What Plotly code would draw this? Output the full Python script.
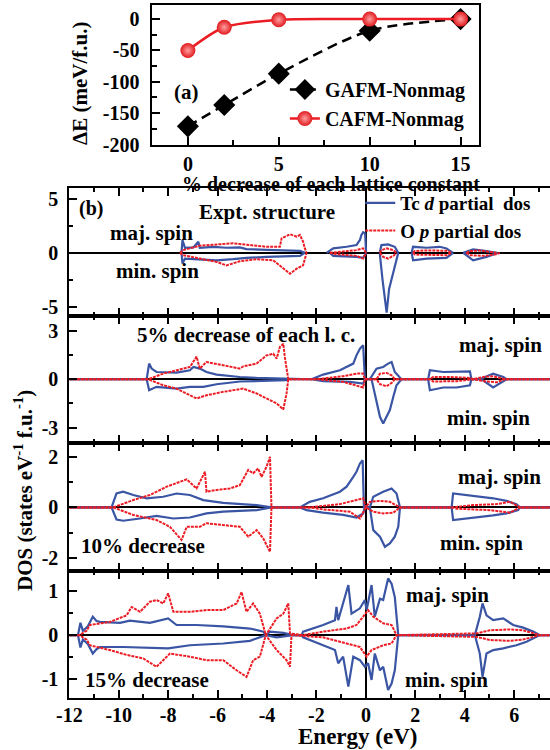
import plotly.graph_objects as go

FONT = "Liberation Serif"
BLUE = "#3A55A4"
RED = "#EC1C24"
GAP = (None, None)

# ---------------- panel (a) data ----------------
LATTICE_DECREASE = [0, 2, 5, 10, 15]
GAFM_NONMAG = [-171, -137, -87, -18.5, 0]
CAFM_NONMAG = [-50, -13, -1, 0, 0]
A_YTICKS = [0, -50, -100, -150, -200]
A_XTICKS = [0, 5, 10, 15]

# ---------------- panel (b) data: (energy eV, DOS) ----------------
# Expt. structure
P1_D_UP = [(-7.46, 0), (-7.42, 1.19), (-7.32, 0.47), (-6.98, 0.5), (-6.78, 1.03), (-6.72, 0.47), (-6.18, 0.56),
           (-5.64, 0.47), (-5.10, 0.5), (-4.83, 0.34), (-4.02, 0.28), (-3.21, 0.25), (-2.67, 0.19), (-2.47, 0), GAP,
           (-1.59, 0), (-1.32, 0.41), (-0.78, 0.56), (-0.38, 0.72), (-0.24, 1.19), (-0.18, 1.66), (-0.11, 1.9),
           (-0.03, 1.8), (0.01, 0), GAP,
           (0.57, 0.09), (0.63, 0.72), (0.90, 0.78), (1.17, 0.56), (1.31, 0), GAP,
           (1.85, 0), (1.91, 0.56), (2.45, 0.47), (2.99, 0.56), (3.26, 0.41), (3.53, 0), GAP,
           (3.94, 0), (4.34, 0.31), (4.88, 0.16), (5.29, 0)]
P1_D_DN = [(-7.46, 0), (-7.42, -1.0), (-7.32, -0.53), (-6.72, -0.59), (-6.04, -0.69), (-5.37, -0.59), (-4.83, -0.47),
           (-4.02, -0.38), (-3.21, -0.34), (-2.67, -0.28), (-2.47, 0), GAP,
           (-1.46, 0), (-1.32, -0.28), (-0.38, -0.38), (-0.11, -0.47), (0.01, 0), GAP,
           (0.57, 0), (0.57, -0.22), (0.67, -2.41), (0.77, -4.59), (0.84, -5.53), (0.94, -3.34), (1.04, -2.41),
           (1.17, -1.47), (1.31, 0), GAP,
           (1.85, 0), (1.91, -0.69), (2.45, -0.53), (3.26, -0.47), (3.53, 0), GAP,
           (3.94, 0), (4.34, -0.69), (4.88, -0.38), (5.35, 0)]
P1_P_UP = [(-7.52, 0), (-7.39, 0.25), (-6.72, 0.66), (-6.04, 0.78), (-5.37, 0.88), (-4.69, 0.72), (-4.02, 0.56),
           (-3.48, 0.56), (-3.41, 1.34), (-3.07, 1.72), (-2.80, 1.5), (-2.67, 1.66), (-2.54, 1.03), (-2.47, 0.41),
           (-2.40, 0), GAP,
           (-1.46, 0), (-0.38, 0.25), (-0.11, 0.41), (0.01, 0), GAP,
           (0.57, 0), (0.63, 0.25), (0.84, 0.41), (1.11, 0.25), (1.24, 0), GAP,
           (1.91, 0), (1.98, 0.16), (2.45, 0.22), (3.26, 0.19), (3.47, 0), GAP,
           (4.07, 0), (4.21, 0.16), (4.61, 0.22), (5.15, 0.09), (5.29, 0)]
P1_P_DN = [(-7.52, 0), (-7.39, -0.22), (-6.72, -0.53), (-6.04, -0.84), (-5.64, -1.16), (-5.10, -0.78), (-4.42, -0.59),
           (-3.75, -0.69), (-3.41, -1.31), (-3.07, -1.94), (-2.80, -1.47), (-2.54, -1.16), (-2.40, 0), GAP,
           (-1.46, 0), (-1.32, -0.09), (-0.38, -0.28), (-0.11, -0.53), (0.01, 0), GAP,
           (0.57, 0), (0.70, -0.38), (0.90, -0.53), (1.11, -0.28), (1.24, 0), GAP,
           (1.91, 0), (1.98, -0.16), (3.26, -0.22), (3.47, 0), GAP,
           (4.07, 0), (4.21, -0.22), (4.75, -0.28), (5.29, -0.13), (5.42, 0)]

# 5% decrease
P2_D_UP = [(-12, 0), (-8.87, 0), (-8.77, 0.97), (-8.67, 0.66), (-8.47, 0.45), (-7.66, 0.41), (-7.12, 0.56),
           (-6.98, 0.76), (-6.72, 0.66), (-6.45, 0.45), (-6.04, 0.29), (-5.10, 0.14), (-4.42, 0.08), (-3.21, 0.04),
           (-3.14, 0), (-2.20, 0), (-1.73, 0.29), (-1.05, 0.56), (-0.51, 0.97), (-0.38, 1.48), (-0.24, 1.89),
           (-0.11, 2.1), (-0.04, 0), (0.16, 0), (0.43, 0.66), (0.70, 0.76), (0.90, 0.97), (1.04, 1.07), (1.17, 0.45),
           (1.44, 0), (2.52, 0), (2.59, 0.56), (3.13, 0.45), (3.67, 0.45), (4.21, 0.49), (4.27, 0), (4.61, 0),
           (5.15, 0.35), (5.56, 0.14), (5.69, 0), (7.45, 0)]
P2_D_DN = [(-12, 0), (-8.87, 0), (-8.77, -0.68), (-8.47, -0.47), (-7.66, -0.58), (-7.12, -0.47), (-6.58, -0.47),
           (-6.04, -0.31), (-5.10, -0.14), (-3.21, -0.06), (-3.14, 0), (-2.20, 0), (-1.73, -0.12), (-0.65, -0.16),
           (-0.11, -0.27), (-0.04, 0), (0.23, 0), (0.43, -1.5), (0.57, -2.33), (0.70, -2.74), (0.81, -2.43),
           (0.97, -1.91), (1.11, -1.09), (1.24, -0.37), (1.44, 0), (2.52, 0), (2.59, -0.68), (3.13, -0.51),
           (3.67, -0.51), (4.21, -0.37), (4.27, 0), (4.68, 0), (5.15, -0.51), (5.56, -0.16), (5.69, 0), (7.45, 0)]
P2_P_UP = [(-12, 0), (-8.81, 0), (-8.20, 0.35), (-7.66, 0.56), (-7.12, 0.76), (-6.85, 1.4), (-6.72, 0.66),
           (-6.45, 1.07), (-5.77, 0.86), (-5.10, 0.66), (-4.96, 0.8), (-4.42, 0.97), (-4.02, 1.48), (-3.75, 1.58),
           (-3.61, 1.28), (-3.48, 2.0), (-3.34, 2.2), (-3.28, 1.38), (-3.14, 0), (-2.00, 0), (-0.92, 0.19),
           (-0.38, 0.35), (-0.11, 0.35), (-0.04, 0), (0.43, 0), (0.57, 0.35), (0.84, 0.39), (1.04, 0.25), (1.17, 0),
           (2.59, 0), (2.72, 0.14), (3.40, 0.14), (4.21, 0.08), (4.34, 0), (4.75, 0.14), (5.15, 0.19), (5.62, 0),
           (7.45, 0)]
P2_P_DN = [(-12, 0), (-8.81, 0), (-8.20, -0.37), (-7.66, -0.58), (-7.12, -0.99), (-6.85, -1.19), (-6.45, -0.99),
           (-5.77, -0.78), (-4.96, -0.58), (-4.42, -0.88), (-4.02, -1.19), (-3.61, -1.5), (-3.34, -1.87),
           (-3.21, -0.88), (-3.14, 0), (-2.00, 0), (-0.92, -0.16), (-0.38, -0.37), (-0.11, -0.51), (-0.04, 0),
           (0.43, 0), (0.57, -0.31), (0.84, -0.43), (1.04, -0.23), (1.17, 0), (2.59, 0), (2.72, -0.14),
           (3.67, -0.12), (4.34, 0), (4.88, -0.14), (5.29, -0.19), (5.62, 0), (7.45, 0)]

# 10% decrease
P3_D_UP = [(-12, 0), (-10.29, 0), (-10.09, 0.55), (-9.82, 0.62), (-9.41, 0.49), (-8.87, 0.36), (-8.20, 0.42),
           (-7.66, 0.55), (-7.12, 0.49), (-6.58, 0.29), (-5.77, 0.18), (-5.10, 0.13), (-4.42, 0.09), (-3.82, 0),
           (-2.67, 0), (-2.27, 0.22), (-1.73, 0.36), (-1.05, 0.62), (-0.78, 0.82), (-0.51, 1.21), (-0.38, 1.41),
           (-0.24, 1.74), (-0.13, 1.87), (-0.08, 0), (0.16, 0), (0.30, 0.42), (0.70, 0.62), (1.04, 0.75),
           (1.24, 0.55), (1.38, 0), (3.47, 0), (3.53, 0.55), (4.07, 0.49), (4.61, 0.42), (5.15, 0.36), (5.69, 0.26),
           (6.09, 0.13), (6.23, 0), (7.45, 0)]
P3_D_DN = [(-12, 0), (-10.29, 0), (-10.09, -0.48), (-9.82, -0.53), (-9.14, -0.44), (-8.47, -0.34), (-7.79, -0.44),
           (-7.12, -0.40), (-6.45, -0.24), (-5.77, -0.17), (-4.42, -0.11), (-3.82, 0), (-2.67, 0), (-2.40, -0.11),
           (-1.73, -0.21), (-0.92, -0.30), (-0.38, -0.40), (-0.11, -0.24), (-0.04, 0), (0.16, 0), (0.30, -0.9),
           (0.57, -1.16), (0.77, -1.56), (0.97, -1.43), (1.17, -1.16), (1.31, -0.77), (1.38, 0), (3.47, 0),
           (3.53, -0.50), (4.07, -0.44), (4.61, -0.40), (5.15, -0.32), (5.69, -0.24), (6.16, -0.11), (6.23, 0),
           (7.45, 0)]
P3_P_UP = [(-12, 0), (-10.22, 0), (-9.41, 0.29), (-8.74, 0.49), (-8.06, 0.82), (-7.66, 0.95), (-7.25, 1.11),
           (-6.85, 0.75), (-6.51, 1.41), (-6.45, 0.62), (-6.04, 0.69), (-5.50, 0.75), (-5.10, 0.88), (-4.76, 1.48),
           (-4.56, 1.35), (-4.36, 1.54), (-4.22, 1.21), (-4.02, 1.61), (-3.88, 2.0), (-3.82, 0), (-2.27, 0),
           (-1.05, 0.13), (-0.38, 0.29), (-0.11, 0.36), (0.0, 0), (0.16, 0.22), (0.57, 0.26), (0.97, 0.22),
           (1.38, 0), (3.53, 0), (4.34, 0.09), (5.29, 0.13), (5.83, 0.22), (6.23, 0), (7.45, 0)]
P3_P_DN = [(-12, 0), (-10.22, 0), (-9.41, -0.30), (-8.47, -0.50), (-7.93, -0.77), (-7.46, -1.29), (-7.25, -0.77),
           (-6.72, -0.77), (-6.45, -0.63), (-5.77, -0.70), (-5.10, -0.77), (-4.76, -1.16), (-4.42, -0.90),
           (-4.15, -1.23), (-3.88, -1.76), (-3.82, 0), (-2.27, 0), (-1.73, -0.08), (-0.65, -0.17), (-0.24, -0.44),
           (0.0, 0), (0.30, -0.17), (0.70, -0.24), (1.11, -0.21), (1.38, 0), (3.53, 0), (3.67, -0.05),
           (5.02, -0.11), (5.83, -0.21), (6.23, 0), (7.45, 0)]

# 15% decrease
P4_D_UP = [(-12, 0), (-11.65, 0), (-11.55, 0.28), (-11.45, 0.1), (-11.25, 0.2), (-11.05, 0.42), (-10.9, 0.32),
           (-10.76, 0.30), (-9.95, 0.28), (-9.55, 0.33), (-8.74, 0.28), (-8.00, 0.38), (-7.66, 0.23), (-6.85, 0.23),
           (-5.77, 0.20), (-4.69, 0.15), (-4.15, 0.08), (-4.05, 0), (-3.88, 0.08), (-3.34, 0.05), (-2.94, 0),
           (-2.60, 0), (-2.54, 0.08), (-1.73, 0.23), (-1.25, 0.34), (-1.19, 0.64), (-1.12, 0.34), (-0.71, 1.14),
           (-0.58, 0.49), (-0.24, 0.61), (-0.04, 0.80), (0.03, 0.57), (0.23, 1.14), (0.36, 0.42), (0.57, 0.83),
           (0.70, 0.80), (0.90, 1.29), (1.04, 1.17), (1.17, 0.87), (1.31, 0), (4.41, 0), (4.61, 0.42), (4.72, 0.72),
           (4.88, 0.45), (5.15, 0.34), (5.56, 0.38), (5.96, 0.23), (6.36, 0.17), (6.77, 0.08), (7.04, 0), (7.45, 0)]
P4_D_DN = [(-12, 0), (-11.65, 0), (-11.55, -0.28), (-11.45, -0.1), (-11.25, -0.2), (-11.05, -0.42), (-10.9, -0.32),
           (-10.76, -0.27), (-9.82, -0.27), (-8.00, -0.30), (-7.12, -0.23), (-5.77, -0.19), (-4.69, -0.13),
           (-4.05, 0), (-3.61, -0.05), (-2.94, 0), (-2.60, 0), (-2.54, -0.05), (-1.73, -0.23), (-1.25, -0.34),
           (-1.12, -0.64), (-0.92, -0.49), (-0.71, -1.17), (-0.51, -0.49), (-0.24, -0.57), (-0.04, -0.72),
           (0.09, -0.64), (0.23, -1.02), (0.36, -0.42), (0.57, -0.80), (0.70, -0.72), (0.90, -1.25), (1.04, -1.10),
           (1.17, -0.80), (1.31, 0), (4.41, 0), (4.61, -0.42), (4.72, -0.95), (4.88, -0.42), (5.15, -0.34),
           (5.56, -0.30), (6.09, -0.23), (6.50, -0.15), (7.04, 0), (7.45, 0)]
P4_P_UP = [(-12, 0), (-11.6, 0), (-11.3, 0.1), (-11.17, 0.23), (-10.36, 0.30), (-9.68, 0.45), (-9.48, 0.64),
           (-9.14, 0.53), (-8.74, 0.76), (-8.47, 0.80), (-8.20, 0.72), (-8.00, 0.95), (-7.79, 0.53), (-7.12, 0.53),
           (-6.45, 0.57), (-5.77, 0.57), (-5.23, 0.72), (-5.03, 0.98), (-4.83, 0.53), (-4.56, 0.72), (-4.29, 0.49),
           (-4.05, 0), (-3.61, 0.38), (-3.34, 0.49), (-3.14, 0.72), (-3.07, 0.04), (-2.54, 0), (-1.73, 0.08),
           (-0.78, 0.15), (-0.38, 0.23), (-0.11, 0.42), (0.09, 0.57), (0.30, 0.42), (0.70, 0.27), (1.04, 0.23),
           (1.24, 0), (4.48, 0.04), (5.02, 0.11), (5.83, 0.13), (6.36, 0.11), (7.04, 0), (7.45, 0)]
P4_P_DN = [(-12, 0), (-11.6, 0), (-11.3, -0.1), (-11.17, -0.23), (-10.36, -0.34), (-9.68, -0.45), (-9.01, -0.53),
           (-8.47, -0.72), (-7.93, -0.42), (-7.12, -0.49), (-6.45, -0.57), (-5.77, -0.57), (-5.23, -0.80),
           (-4.83, -0.95), (-4.56, -0.57), (-4.29, -0.49), (-4.05, 0), (-3.61, -0.34), (-3.21, -0.57),
           (-3.07, -0.72), (-3.01, 0), (-1.73, -0.05), (-0.78, -0.19), (-0.24, -0.27), (0.03, -0.49),
           (0.23, -0.34), (0.70, -0.23), (1.04, -0.19), (1.24, 0), (4.48, -0.04), (5.02, -0.11), (5.83, -0.13),
           (6.36, -0.10), (7.04, 0), (7.45, 0)]

PANELS = [
    (P1_D_UP, P1_D_DN, P1_P_UP, P1_P_DN),
    (P2_D_UP, P2_D_DN, P2_P_UP, P2_P_DN),
    (P3_D_UP, P3_D_DN, P3_P_UP, P3_P_DN),
    (P4_D_UP, P4_D_DN, P4_P_UP, P4_P_DN),
]
Y_RANGES = [(-5.8, 6.0), (-3.95, 3.95), (-2.5, 2.55), (-1.43, 1.47)]
Y_TICKS = [[-5, 0, 5], [-3, 0, 3], [-2, 0, 2], [-1, 0, 1]]
Y_MINOR = [2.5, 1.5, 1, 0.5]
E_TICKS = [-12, -10, -8, -6, -4, -2, 0, 2, 4, 6]


def lab(v):
    return str(v)


fig = go.Figure()

# ---------------- panel (a) traces ----------------
fig.add_trace(go.Scatter(
    x=LATTICE_DECREASE, y=GAFM_NONMAG, name="GAFM-Nonmag", mode="lines+markers",
    line=dict(color="black", width=2.5, dash="10px,6px", shape="spline", smoothing=0.8),
    marker=dict(symbol="diamond", size=17, color="black"),
    xaxis="x", yaxis="y", legend="legend"))
fig.add_trace(go.Scatter(
    x=LATTICE_DECREASE, y=CAFM_NONMAG, name="CAFM-Nonmag", mode="lines+markers",
    line=dict(color=RED, width=2.5, shape="spline", smoothing=0.8),
    marker=dict(symbol="circle", size=15, color="#E01A1E",
                gradient=dict(type="radial", color="#FF9E9E"), line=dict(width=0)),
    xaxis="x", yaxis="y", legend="legend"))

# ---------------- panel (b) traces ----------------
for i, (dup, ddn, pup, pdn) in enumerate(PANELS):
    xa, ya = f"x{i + 2}", f"y{i + 2}"
    for j, series in enumerate((dup, ddn)):
        fig.add_trace(go.Scatter(
            x=[p[0] for p in series], y=[p[1] for p in series], mode="lines",
            line=dict(color=BLUE, width=2.2), name="Tc <i>d</i> partial  dos",
            showlegend=(i == 0 and j == 0), legend="legend2", xaxis=xa, yaxis=ya))
for i, (dup, ddn, pup, pdn) in enumerate(PANELS):
    xa, ya = f"x{i + 2}", f"y{i + 2}"
    for j, series in enumerate((pup, pdn)):
        fig.add_trace(go.Scatter(
            x=[p[0] for p in series], y=[p[1] for p in series], mode="lines",
            line=dict(color=RED, width=2, dash="3px,1px"), name="O <i>p</i> partial dos",
            showlegend=(i == 0 and j == 0), legend="legend2", xaxis=xa, yaxis=ya))

TICKFONT = dict(family=FONT, size=20, color="black", weight="bold")
common = dict(showline=True, linecolor="black", linewidth=2, ticks="inside", ticklen=8, tickwidth=2,
              tickcolor="black", showgrid=False, tickfont=TICKFONT, automargin=False)

layout = dict(
    width=550, height=750, margin=dict(l=0, r=0, t=0, b=0, autoexpand=False),
    paper_bgcolor="white", plot_bgcolor="rgba(0,0,0,0)",
    font=dict(family=FONT, size=20, color="black", weight="bold"),
    xaxis=dict(domain=[0.2755, 0.8705], range=[-2, 16], anchor="y", mirror=True, zeroline=False,
               tickmode="array", tickvals=A_XTICKS, ticktext=[lab(v) for v in A_XTICKS],
               minor=dict(tickmode="linear", tick0=0, dtick=2.5, ticks="inside", ticklen=5, tickwidth=2,
                          tickcolor="black"),
               ticklabelstandoff=0, **common),
    yaxis=dict(domain=[0.8073, 0.9929], range=[-200, 22], anchor="x", mirror=True, zeroline=False,
               tickmode="array", tickvals=A_YTICKS, ticktext=[lab(v) for v in A_YTICKS],
               minor=dict(tickmode="linear", tick0=0, dtick=25, ticks="inside", ticklen=5, tickwidth=2,
                          tickcolor="black"),
               ticklabelstandoff=6, **common),
    legend=dict(x=0.518, y=1 - 70 / 750, xanchor="left", yanchor="top", bgcolor="rgba(0,0,0,0)",
                font=dict(family=FONT, size=20, color="black", weight="bold"), tracegroupgap=0),
    legend2=dict(x=0.655, y=1 - 184 / 750, xanchor="left", yanchor="top", bgcolor="rgba(0,0,0,0)",
                 font=dict(family=FONT, size=19, color="black", weight="bold"), tracegroupgap=0),
)

tops = [188, 315.5, 443, 570.5, 698]
for i in range(4):
    k = i + 2
    dom = [1 - tops[i + 1] / 750, 1 - tops[i] / 750]
    last = (i == 3)
    xd = dict(domain=[0.126, 1.0], range=[-12, 7.45], anchor=f"y{k}", mirror="ticks",
              zeroline=True, zerolinecolor="black", zerolinewidth=2,
              tickmode="array", tickvals=E_TICKS, ticktext=[lab(v) for v in E_TICKS],
              showticklabels=last,
              minor=dict(tickmode="linear", tick0=0, dtick=1, ticks="inside", ticklen=4, tickwidth=2,
                         tickcolor="black"),
              ticklabelstandoff=-2, **common)
    if k > 2:
        xd["matches"] = "x2"
    yd = dict(domain=dom, range=list(Y_RANGES[i]), anchor=f"x{k}",
              zeroline=True, zerolinecolor="black", zerolinewidth=2,
              tickmode="array", tickvals=Y_TICKS[i], ticktext=[lab(v) for v in Y_TICKS[i]],
              minor=dict(tickmode="linear", tick0=0, dtick=Y_MINOR[i], ticks="inside", ticklen=4, tickwidth=2,
                         tickcolor="black"),
              ticklabelstandoff=5, **common)
    layout[f"xaxis{k}"] = xd
    layout[f"yaxis{k}"] = yd

fig.update_layout(**layout)


def ann(text, px, py, size=20, angle=0, xanchor="center"):
    fig.add_annotation(text=text, x=px / 550, y=1 - py / 750, xref="paper", yref="paper", showarrow=False,
                       xanchor=xanchor, yanchor="middle", textangle=angle,
                       font=dict(family=FONT, size=size, color="black", weight="bold"))


ann("ΔE (meV/f.u.)", 80, 84, size=21, angle=-90)
ann("% decrease of each lattice constant", 331, 184, size=20)
ann("(a)", 186, 92, size=21)
ann("(b)", 91, 208, size=20)
ann("Expt. structure", 267, 212, size=21)
ann("maj. spin", 151, 233, size=21)
ann("min. spin", 157, 271, size=21)
ann("5% decrease of each l. c.", 246, 335, size=21)
ann("maj. spin", 500, 345, size=21)
ann("min. spin", 488, 418, size=21)
ann("maj. spin", 499, 477, size=21)
ann("min. spin", 481, 543, size=21)
ann("10% decrease", 143, 546, size=21)
ann("maj. spin", 447, 595, size=21)
ann("min. spin", 446, 680, size=21)
ann("15% decrease", 147, 680, size=21)
ann("Energy (eV)", 357, 736.5, size=23)
ann("DOS (states eV<sup>-1</sup> f.u.<sup>-1</sup>)", 24, 491, size=21, angle=-90)

fig.write_html("out.html", config={"displayModeBar": False},
               post_script="document.body.style.margin='0px';")
